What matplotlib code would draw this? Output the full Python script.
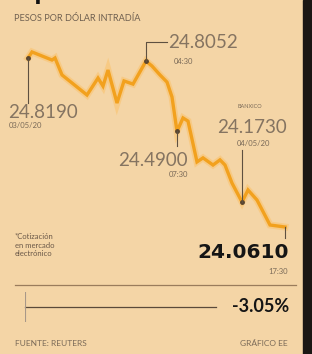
import matplotlib
matplotlib.use("Agg")
import matplotlib.pyplot as plt
from matplotlib.lines import Line2D
from matplotlib.patches import Rectangle

# ---- data ----
t = [0, 4, 24, 27, 34, 59, 70, 75, 80, 89, 96, 105, 118, 124, 132, 139,
     144, 149, 155, 160, 169, 175, 185, 192, 197, 204, 214, 220, 229, 242, 257]
rate = [24.8190, 24.846, 24.810, 24.819, 24.743, 24.653, 24.729, 24.693,
        24.765, 24.617, 24.716, 24.702, 24.8052, 24.783, 24.743, 24.711,
        24.644, 24.4900, 24.550, 24.536, 24.353, 24.371, 24.339, 24.362,
        24.339, 24.258, 24.1730, 24.227, 24.182, 24.070, 24.0610]
pct_change = -3.05

labels_main = ["24.8190", "24.8052", "24.4900", "24.1730", "24.0610"]
labels_sub = ["03/05/20", "04:30", "07:30", "04/05/20", "17:30"]

W, H = 312, 354
BG = "#F4D5A6"
GREY = "#7a6a58"
BIGGREY = "#857461"
ORANGE = "#F2A11E"

fig = plt.figure(figsize=(W / 100, H / 100), dpi=100, facecolor=BG)


def fx(x):
    return x / W


def fy(y):
    return 1 - y / H


ax = fig.add_axes([fx(28), fy(227), (285 - 28) / W, (227 - 58) / H])
ax.set_xlim(0, 257)
ax.set_ylim(24.0610, 24.8190)
ax.axis("off")
ax.set_facecolor(BG)

# glow + line
ax.plot(t, rate, color="#F9C77A", lw=5.0, alpha=0.75, clip_on=False,
        solid_joinstyle="miter", zorder=2)
ax.plot(t, rate, color=ORANGE, lw=2.4, clip_on=False,
        solid_joinstyle="miter", zorder=3)

fig.canvas.draw()


def px(i):
    xd, yd = ax.transData.transform((t[i], rate[i]))
    return xd, yd


def leader(pts):
    xs = [p[0] for p in pts]
    ys = [p[1] for p in pts]
    fig.add_artist(Line2D(xs, ys, transform=None, color="#5e5040", lw=0.8, zorder=4))


idx = [0, 12, 17, 26, 30]
for i in idx[:4]:
    ax.plot([t[i]], [rate[i]], "o", color="#5a4630", ms=2.5, clip_on=False, zorder=5)

x0, y0 = px(0)
leader([(x0, y0), (x0, y0 - 45)])
x1, y1 = px(12)
leader([(x1, y1), (x1, y1 + 19), (x1 + 21, y1 + 19)])
x2, y2 = px(17)
leader([(x2, y2), (x2, y2 - 15)])
x3, y3 = px(26)
leader([(x3, y3), (x3, y3 + 52)])
x4, y4 = px(30)
leader([(x4, y4), (x4, y4 - 11)])

LF = "Lato"

# title (cut off at top, as in the original)
fig.text(fx(13), fy(0.5), "Tipo de cambio", fontsize=15, fontweight="bold",
         color="#111111", family="DejaVu Sans", va="baseline", ha="left")
fig.text(fx(14), fy(18.5), "PESOS POR DÓLAR INTRADÍA", fontsize=6.6,
         color="#6f6050", family=LF, va="center", ha="left")

# labels
fig.text(fx(8), fy(112), labels_main[0], fontsize=13.5, color=BIGGREY, family=LF,
         va="center", ha="left")
fig.text(fx(9), fy(125), labels_sub[0], fontsize=5.5, color=GREY, family=LF,
         va="center", ha="left")

fig.text(fx(168), fy(43), labels_main[1], fontsize=13.5, color=BIGGREY, family=LF,
         va="center", ha="left")
fig.text(fx(174), fy(61), labels_sub[1], fontsize=5.5, color=GREY, family=LF,
         va="center", ha="left")

fig.text(fx(188), fy(160), labels_main[2], fontsize=13.5, color=BIGGREY, family=LF,
         va="center", ha="right")
fig.text(fx(188), fy(175), labels_sub[2], fontsize=5.5, color=GREY, family=LF,
         va="center", ha="right")

fig.text(fx(250), fy(107), "BANXICO", fontsize=4, color=GREY, family=LF,
         va="center", ha="center")
fig.text(fx(252), fy(127), labels_main[3], fontsize=13.5, color=BIGGREY, family=LF,
         va="center", ha="center")
fig.text(fx(253), fy(143), labels_sub[3], fontsize=5.5, color=GREY, family=LF,
         va="center", ha="center")

fig.text(fx(289), fy(252), labels_main[4], fontsize=14.5, color="#151515",
         family="DejaVu Sans", fontweight="bold", va="center", ha="right")
fig.text(fx(288), fy(271), labels_sub[4], fontsize=5.5, color=GREY, family=LF,
         va="center", ha="right")

fig.text(fx(15), fy(245), "*Cotización\nen mercado\nelectrónico", fontsize=5.5,
         color="#6a5848", family=LF, va="center", ha="left", linespacing=1.25)

# separator
fig.add_artist(Line2D([fx(15), fx(296)], [fy(285), fy(285)], color="#9a7c5c", lw=0.9))

# percent change bar
bax = fig.add_axes([fx(25), fy(322), (216 - 25) / W, (322 - 292) / H])
bax.set_xlim(0, pct_change)
bax.set_ylim(-1, 1)
bax.axis("off")
bax.plot([0, pct_change], [0, 0], color="#5a4a3a", lw=0.9, clip_on=False)
bax.axvline(0, color="#a89888", lw=0.8)
fig.text(fx(289), fy(307), f"{pct_change:.2f}%", fontsize=13, color="#151515",
         family=LF, fontweight="bold", va="center", ha="right")

# footer
fig.text(fx(15), fy(343), "FUENTE: REUTERS", fontsize=6, color=GREY, family=LF,
         va="center", ha="left")
fig.text(fx(288), fy(343), "GRÁFICO EE", fontsize=6, color=GREY, family=LF,
         va="center", ha="right")

# right dark border
fig.add_artist(Rectangle((fx(303), 0), fx(312) - fx(303), 1, transform=fig.transFigure,
                         color="#1b1714", zorder=10))

fig.savefig("out.png", dpi=100, facecolor=BG)
